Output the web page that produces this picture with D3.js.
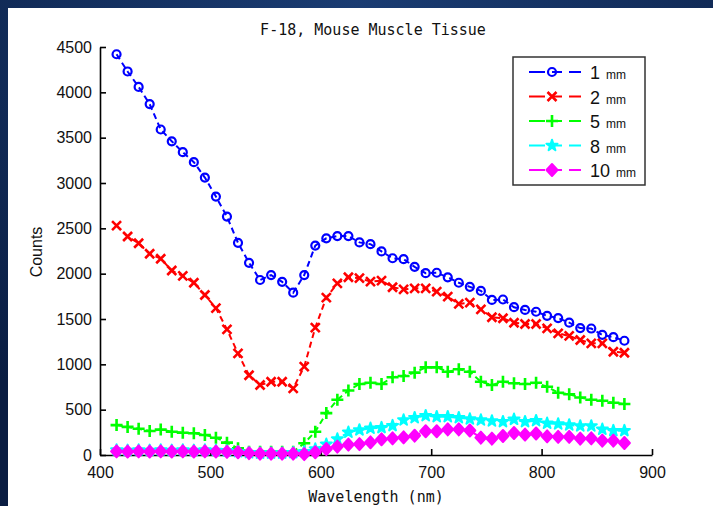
<!DOCTYPE html>
<html>
<head>
<script src="https://d3js.org/d3.v7.min.js"></script>
<style>
  body { margin: 0; background: #0d2450; }
  svg { display: block; }
</style>
</head>
<body>
<div id="chart"></div>
<script>
// wavelengths (nm), one reading every 10 nm
const wavelengths = d3.range(415, 876, 10);

const depths = ["1", "2", "5", "8", "10"];
const counts1mm = [4420, 4230, 4060, 3870, 3590, 3460, 3340, 3230, 3060, 2850, 2630, 2340, 2120, 1930, 1985, 1910, 1790, 1985, 2310, 2390, 2415, 2415, 2345, 2325, 2245, 2170, 2160, 2075, 2005, 2010, 1960, 1900, 1855, 1810, 1710, 1715, 1630, 1600, 1580, 1535, 1510, 1460, 1400, 1395, 1325, 1300, 1260];
const counts2mm = [2530, 2410, 2335, 2220, 2165, 2035, 1975, 1900, 1765, 1620, 1385, 1120, 880, 772, 808, 808, 735, 975, 1405, 1735, 1893, 1960, 1950, 1912, 1923, 1850, 1827, 1838, 1838, 1802, 1746, 1666, 1680, 1607, 1519, 1508, 1459, 1445, 1445, 1397, 1342, 1313, 1268, 1232, 1232, 1139, 1128];
const counts5mm = [330, 310, 290, 265, 280, 257, 246, 240, 221, 190, 136, 74, 36, 36, 36, 36, 36, 129, 257, 462, 610, 712, 783, 797, 783, 857, 871, 908, 967, 967, 919, 945, 919, 808, 772, 808, 791, 783, 797, 753, 687, 670, 635, 610, 599, 577, 563];
const counts8mm = [55, 50, 55, 50, 55, 50, 55, 50, 55, 50, 45, 35, 25, 20, 20, 20, 25, 35, 66, 118, 176, 250, 276, 294, 301, 323, 386, 411, 433, 422, 422, 411, 397, 386, 375, 367, 393, 367, 378, 349, 342, 331, 320, 320, 283, 268, 268];
const counts10mm = [40, 38, 40, 38, 40, 38, 40, 38, 40, 38, 35, 30, 20, 15, 15, 15, 15, 10, 30, 66, 92, 115, 120, 140, 173, 184, 195, 213, 262, 262, 282, 282, 270, 191, 180, 210, 243, 225, 237, 206, 200, 200, 180, 184, 158, 158, 132];

const xTicks = [400, 500, 600, 700, 800, 900];
const yTicks = [0, 500, 1000, 1500, 2000, 2500, 3000, 3500, 4000, 4500];

const series = [
  { name: depths[0], values: counts1mm, color: "#0000ff", marker: "circle" },
  { name: depths[1], values: counts2mm, color: "#ff0000", marker: "x" },
  { name: depths[2], values: counts5mm, color: "#00ff00", marker: "plus" },
  { name: depths[3], values: counts8mm, color: "#00ffff", marker: "star" },
  { name: depths[4], values: counts10mm, color: "#ff00ff", marker: "diamond" }
];

const W = 713, H = 506;
const svg = d3.select("#chart").append("svg")
  .attr("width", W).attr("height", H);

const grad = svg.append("defs").append("radialGradient")
  .attr("id", "bg").attr("cx", "50%").attr("cy", "0%").attr("r", "90%");
grad.append("stop").attr("offset", "0%").attr("stop-color", "#1a3c72");
grad.append("stop").attr("offset", "100%").attr("stop-color", "#0a1d42");
svg.append("rect").attr("width", W).attr("height", H).attr("fill", "url(#bg)");

// white figure area
svg.append("rect").attr("x", 8).attr("y", 8).attr("width", W - 8).attr("height", H - 8).attr("fill", "#fff");

const x = d3.scaleLinear().domain([400, 900]).range([100, 652]);
const y = d3.scaleLinear().domain([0, 4500]).range([455, 47]);

// axes, ticks pointing inwards
const xAxis = svg.append("g")
  .attr("transform", `translate(0,${y(0)})`)
  .call(d3.axisBottom(x).tickValues(xTicks).tickFormat(d3.format("d"))
    .tickSize(-6).tickPadding(12).tickSizeOuter(0));
const yAxis = svg.append("g")
  .attr("transform", `translate(${x(400)},0)`)
  .call(d3.axisLeft(y).tickValues(yTicks).tickFormat(d3.format("d"))
    .tickSize(-6).tickPadding(8).tickSizeOuter(0));

[xAxis, yAxis].forEach(a => {
  a.select(".domain").attr("stroke", "#000").attr("stroke-width", 1.6);
  a.selectAll(".tick line").attr("stroke", "#000").attr("stroke-width", 1.6);
  a.selectAll(".tick text")
    .attr("fill", "#111")
    .style("font-family", "Liberation Sans, Arial, sans-serif")
    .style("font-size", "16px");
});

// marker shapes
function markerPath(type) {
  if (type === "x") return "M-4.5,-4.5L4.5,4.5M-4.5,4.5L4.5,-4.5";
  if (type === "plus") return "M-6,0H6M0,-6V6";
  if (type === "diamond") return "M0,-6L5.5,0L0,6L-5.5,0Z";
  if (type === "star") return d3.symbol(d3.symbolStar, 38)();
  return null;
}

function drawMarker(g, type, color) {
  if (type === "circle") {
    g.append("circle").attr("r", 4)
      .attr("fill", "none").attr("stroke", color).attr("stroke-width", 2.2);
  } else {
    const filled = type === "diamond" || type === "star";
    g.append("path").attr("d", markerPath(type))
      .attr("fill", filled ? color : "none")
      .attr("stroke", color)
      .attr("stroke-width", type === "plus" || type === "x" ? 2.6 : 2)
      .attr("stroke-linejoin", "round");
  }
}

const line = d3.line()
  .x((d, i) => x(wavelengths[i]))
  .y(d => y(d));

series.forEach(s => {
  svg.append("path")
    .datum(s.values)
    .attr("d", line)
    .attr("fill", "none")
    .attr("stroke", s.color)
    .attr("stroke-width", 2)
    .attr("stroke-dasharray", "6,4");
  svg.append("g").selectAll("g")
    .data(s.values)
    .join("g")
    .attr("transform", (d, i) => `translate(${x(wavelengths[i])},${y(d)})`)
    .each(function () { drawMarker(d3.select(this), s.marker, s.color); });
});

// title and labels
svg.append("text")
  .attr("x", 373).attr("y", 35)
  .attr("text-anchor", "middle")
  .style("font-family", "DejaVu Sans Mono, monospace")
  .style("font-size", "15px")
  .attr("fill", "#111")
  .text("F-18, Mouse Muscle Tissue");

svg.append("text")
  .attr("x", 376).attr("y", 502)
  .attr("text-anchor", "middle")
  .style("font-family", "DejaVu Sans Mono, monospace")
  .style("font-size", "15px")
  .attr("fill", "#111")
  .text("Wavelength (nm)");

svg.append("text")
  .attr("transform", "translate(42,252) rotate(-90)")
  .attr("text-anchor", "middle")
  .style("font-family", "Liberation Sans, Arial, sans-serif")
  .style("font-size", "16px")
  .attr("fill", "#111")
  .text("Counts");

// legend
const legend = svg.append("g");
legend.append("rect")
  .attr("x", 513).attr("y", 57).attr("width", 132).attr("height", 128)
  .attr("fill", "#fff").attr("stroke", "#333").attr("stroke-width", 1.5);

series.forEach((s, i) => {
  const ly = 72 + i * 24.5;
  legend.append("line")
    .attr("x1", 529).attr("x2", 586).attr("y1", ly).attr("y2", ly)
    .attr("stroke", s.color).attr("stroke-width", 2)
    .attr("stroke-dasharray", "16,7,10,7,12");
  const mg = legend.append("g").attr("transform", `translate(552,${ly})`);
  drawMarker(mg, s.marker, s.color);
  const t = legend.append("text")
    .attr("x", 590).attr("y", ly + 7)
    .attr("fill", "#111")
    .style("font-family", "Liberation Sans, Arial, sans-serif");
  t.append("tspan").style("font-size", "18px").text(s.name);
  t.append("tspan").attr("dx", 6).style("font-size", "12px").text("mm");
});
</script>
</body>
</html>
